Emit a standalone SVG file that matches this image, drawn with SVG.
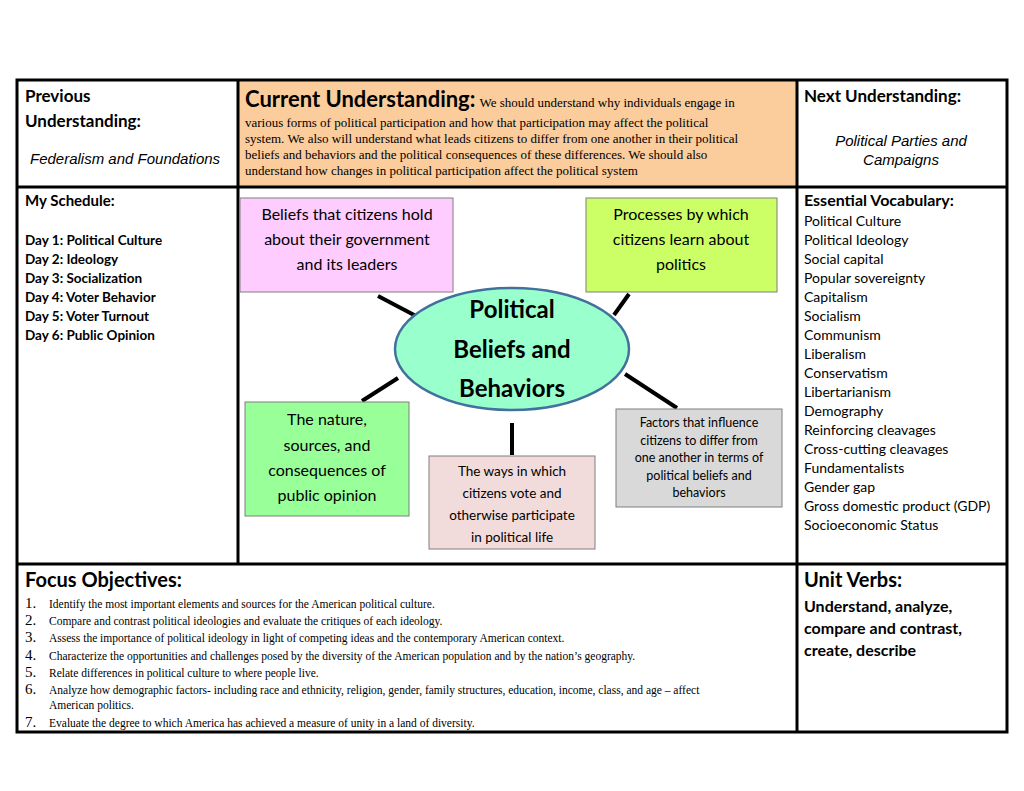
<svg xmlns="http://www.w3.org/2000/svg" width="1024" height="791" viewBox="0 0 1024 791">
<style>
.h{font-family:Lato,"Liberation Sans",sans-serif;font-weight:bold;font-size:17px;fill:#000}
.b{font-family:Lato,"Liberation Sans",sans-serif;font-weight:bold;font-size:13.5px;fill:#000}
.n{font-family:Lato,"Liberation Sans",sans-serif;font-size:14px;fill:#000}
.it{font-family:"Liberation Sans",sans-serif;font-style:italic;font-size:15px;fill:#000}
.t{font-family:"Liberation Serif",serif;font-size:13px;fill:#000}
.o{font-family:"Liberation Serif",serif;font-size:11.5px;fill:#000}
.on{font-family:"Liberation Serif",serif;font-size:15px;fill:#000}
.bx{font-family:Lato,"Liberation Sans",sans-serif;font-size:16px;fill:#000;text-anchor:middle}
.sx{font-family:Lato,"Liberation Sans",sans-serif;font-size:13.5px;fill:#000;text-anchor:middle}
.box{stroke:#7f7f7f;stroke-width:1}
.c{stroke:#000;stroke-width:4}
.g{stroke:#000;stroke-width:3;fill:none}
</style>
<rect width="1024" height="791" fill="#fff"/>
<rect x="238" y="80" width="559" height="107" fill="#fbcc9c"/>
<g id="grid">
<rect x="17" y="80" width="990" height="652" class="g"/>
<line x1="238" y1="80" x2="238" y2="564" class="g"/>
<line x1="797" y1="80" x2="797" y2="732" class="g"/>
<line x1="17" y1="187" x2="1007" y2="187" class="g"/>
<line x1="17" y1="564" x2="1007" y2="564" class="g"/>
</g>
<g id="prev">
<text class="h" x="25" y="102">Previous</text>
<text class="h" x="25" y="127">Understanding:</text>
<text class="it" x="30" y="164">Federalism and Foundations</text>
</g>
<g id="current">
<text x="245" y="107"><tspan class="h" style="font-size:22px">Current Understanding:</tspan><tspan class="t" dx="4">We should understand why individuals engage in</tspan></text>
<text class="t" x="245" y="127">various forms of political participation and how that participation may affect the political</text>
<text class="t" x="245" y="143">system. We also will understand what leads citizens to differ from one another in their political</text>
<text class="t" x="245" y="159">beliefs and behaviors and the political consequences of these differences. We should also</text>
<text class="t" x="245" y="175">understand how changes in political participation affect the political system</text>
</g>
<g id="next">
<text class="h" x="804" y="102">Next Understanding:</text>
<text class="it" x="901" y="146" text-anchor="middle">Political Parties and</text>
<text class="it" x="901" y="165" text-anchor="middle">Campaigns</text>
</g>
<g id="schedule">
<text class="h" x="25" y="206" style="font-size:15px">My Schedule:</text>
<text class="b" x="25" y="245">Day 1: Political Culture</text>
<text class="b" x="25" y="264">Day 2: Ideology</text>
<text class="b" x="25" y="283">Day 3: Socialization</text>
<text class="b" x="25" y="302">Day 4: Voter Behavior</text>
<text class="b" x="25" y="321">Day 5: Voter Turnout</text>
<text class="b" x="25" y="340">Day 6: Public Opinion</text>
</g>
<g id="vocab">
<text class="h" x="804" y="206" style="font-size:16px">Essential Vocabulary:</text>
<text class="n" x="804" y="226">Political Culture</text>
<text class="n" x="804" y="245">Political Ideology</text>
<text class="n" x="804" y="264">Social capital</text>
<text class="n" x="804" y="283">Popular sovereignty</text>
<text class="n" x="804" y="302">Capitalism</text>
<text class="n" x="804" y="321">Socialism</text>
<text class="n" x="804" y="340">Communism</text>
<text class="n" x="804" y="359">Liberalism</text>
<text class="n" x="804" y="378">Conservatism</text>
<text class="n" x="804" y="397">Libertarianism</text>
<text class="n" x="804" y="416">Demography</text>
<text class="n" x="804" y="435">Reinforcing cleavages</text>
<text class="n" x="804" y="454">Cross-cutting cleavages</text>
<text class="n" x="804" y="473">Fundamentalists</text>
<text class="n" x="804" y="492">Gender gap</text>
<text class="n" x="804" y="511">Gross domestic product (GDP)</text>
<text class="n" x="804" y="530">Socioeconomic Status</text>
</g>
<g id="connectors">
<line x1="378" y1="296" x2="416" y2="316" class="c"/>
<line x1="629" y1="294" x2="614" y2="315" class="c"/>
<line x1="362" y1="401" x2="398" y2="378" class="c"/>
<line x1="625" y1="374" x2="677" y2="408" class="c"/>
<line x1="512" y1="423" x2="512" y2="455" class="c"/>
</g>
<g id="center">
<ellipse cx="512" cy="349" rx="117" ry="61" fill="#99ffcc" stroke="#41719c" stroke-width="2.5"/>
<text class="bx" x="512" y="318" style="font-weight:bold;font-size:24px">Political</text>
<text class="bx" x="512" y="358" style="font-weight:bold;font-size:24px">Beliefs and</text>
<text class="bx" x="512" y="397" style="font-weight:bold;font-size:24px">Behaviors</text>
</g>
<g id="beliefs">
<rect x="240" y="198" width="213" height="94" fill="#ffccff" class="box"/>
<text class="bx" x="347" y="220">Beliefs that citizens hold</text>
<text class="bx" x="347" y="245">about their government</text>
<text class="bx" x="347" y="270">and its leaders</text>
</g>
<g id="processes">
<rect x="586" y="198" width="191" height="94" fill="#ccff66" class="box"/>
<text class="bx" x="681" y="220">Processes by which</text>
<text class="bx" x="681" y="245">citizens learn about</text>
<text class="bx" x="681" y="270">politics</text>
</g>
<g id="opinion">
<rect x="245" y="402" width="164" height="114" fill="#99ff99" class="box"/>
<text class="bx" x="327" y="425">The nature,</text>
<text class="bx" x="327" y="451">sources, and</text>
<text class="bx" x="327" y="476">consequences of</text>
<text class="bx" x="327" y="501">public opinion</text>
</g>
<g id="ways">
<rect x="429" y="456" width="166" height="93" fill="#f2dcdb" class="box"/>
<text class="sx" x="512" y="476">The ways in which</text>
<text class="sx" x="512" y="498">citizens vote and</text>
<text class="sx" x="512" y="520">otherwise participate</text>
<text class="sx" x="512" y="542">in political life</text>
</g>
<g id="factors">
<rect x="616" y="409" width="166" height="98" fill="#d9d9d9" class="box"/>
<text class="sx" x="699" y="427" style="font-size:12.5px">Factors that influence</text>
<text class="sx" x="699" y="445" style="font-size:12.5px">citizens to differ from</text>
<text class="sx" x="699" y="462" style="font-size:12.5px">one another in terms of</text>
<text class="sx" x="699" y="480" style="font-size:12.5px">political beliefs and</text>
<text class="sx" x="699" y="497" style="font-size:12.5px">behaviors</text>
</g>
<g id="focus">
<text class="h" x="25" y="587" style="font-size:20px">Focus Objectives:</text>
<text x="25" y="608"><tspan class="on">1.</tspan><tspan class="o" x="49">Identify the most important elements and sources for the American political culture.</tspan></text>
<text x="25" y="625"><tspan class="on">2.</tspan><tspan class="o" x="49">Compare and contrast political ideologies and evaluate the critiques of each ideology.</tspan></text>
<text x="25" y="642"><tspan class="on">3.</tspan><tspan class="o" x="49">Assess the importance of political ideology in light of competing ideas and the contemporary American context.</tspan></text>
<text x="25" y="660"><tspan class="on">4.</tspan><tspan class="o" x="49">Characterize the opportunities and challenges posed by the diversity of the American population and by the nation’s geography.</tspan></text>
<text x="25" y="677"><tspan class="on">5.</tspan><tspan class="o" x="49">Relate differences in political culture to where people live.</tspan></text>
<text x="25" y="694"><tspan class="on">6.</tspan><tspan class="o" x="49">Analyze how demographic factors- including race and ethnicity, religion, gender, family structures, education, income, class, and age – affect</tspan></text>
<text class="o" x="49" y="709">American politics.</text>
<text x="25" y="727"><tspan class="on">7.</tspan><tspan class="o" x="49">Evaluate the degree to which America has achieved a measure of unity in a land of diversity.</tspan></text>
</g>
<g id="verbs">
<text class="h" x="804" y="587" style="font-size:20px">Unit Verbs:</text>
<text class="h" x="804" y="612" style="font-size:16px">Understand, analyze,</text>
<text class="h" x="804" y="634" style="font-size:16px">compare and contrast,</text>
<text class="h" x="804" y="656" style="font-size:16px">create, describe</text>
</g>
</svg>
